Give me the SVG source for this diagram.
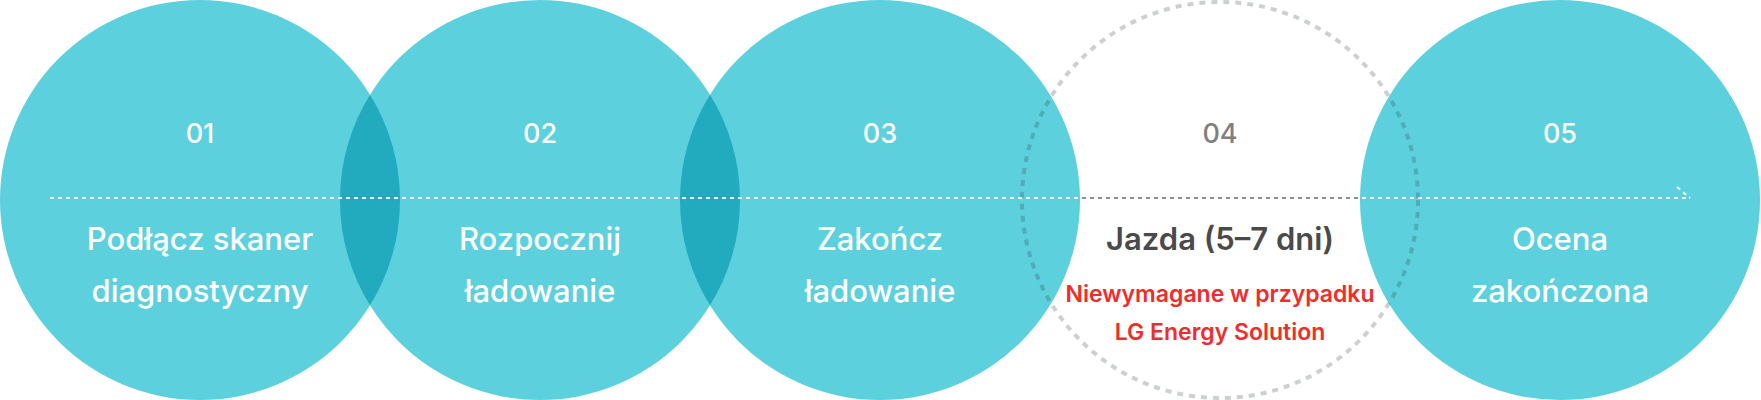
<svg xmlns="http://www.w3.org/2000/svg" width="1761" height="400" viewBox="0 0 1761 400">
  <style>
    .disc { fill: #5CD1DD; }
    .lens { fill: #22AABE; }
    .ring { fill: none; stroke: #28393D; stroke-opacity: 0.24; stroke-width: 4; stroke-dasharray: 6 6; }
    .num { font-family: Inter, "Noto Sans", "Liberation Sans", sans-serif; font-size: 27px; font-weight: 500; text-anchor: middle; fill: #FFFFFF; }
    .lbl { font-family: Inter, "Noto Sans", "Liberation Sans", sans-serif; font-size: 31px; font-weight: 500; text-anchor: middle; fill: #FFFFFF; }
    .note { font-family: Inter, "Noto Sans", "Liberation Sans", sans-serif; font-size: 23px; font-weight: 600; text-anchor: middle; fill: #EE2D2D; }
    .flow { fill: none; stroke-width: 2; stroke-dasharray: 4 4; }
  </style>

  <g id="step-01">
    <circle class="disc" cx="200" cy="200" r="200"/>
    <text class="num" x="200" y="143">01</text>
    <text class="lbl" x="200" y="250">Podłącz skaner</text>
    <text class="lbl" x="200" y="302">diagnostyczny</text>
  </g>
  <g id="step-02">
    <circle class="disc" cx="540" cy="200" r="200"/>
  </g>
  <g id="step-03">
    <circle class="disc" cx="880" cy="200" r="200"/>
  </g>
  <g id="step-05">
    <circle class="disc" cx="1560" cy="200" r="200"/>
  </g>

  <g id="overlaps">
    <path class="lens" d="M370,94.64 A200,200 0 0 1 370,305.36 A200,200 0 0 1 370,94.64 Z"/>
    <path class="lens" d="M710,94.64 A200,200 0 0 1 710,305.36 A200,200 0 0 1 710,94.64 Z"/>
  </g>

  <g id="step-02-text">
    <text class="num" x="540" y="143">02</text>
    <text class="lbl" x="540" y="250">Rozpocznij</text>
    <text class="lbl" x="540" y="302">ładowanie</text>
  </g>
  <g id="step-03-text">
    <text class="num" x="880" y="143">03</text>
    <text class="lbl" x="880" y="250">Zakończ</text>
    <text class="lbl" x="880" y="302">ładowanie</text>
  </g>
  <g id="step-05-text">
    <text class="num" x="1560" y="143">05</text>
    <text class="lbl" x="1560" y="250">Ocena</text>
    <text class="lbl" x="1560" y="302">zakończona</text>
  </g>

  <g id="connectors">
    <line class="flow" x1="50" y1="198" x2="1690" y2="198" stroke="#FFFFFF"/>
    <line class="flow" x1="1082" y1="198" x2="1358" y2="198" stroke="#8A9092"/>
    <line class="flow" x1="1677" y1="187" x2="1690" y2="198" stroke="#FFFFFF"/>
  </g>

  <g id="step-04">
    <circle class="ring" cx="1220" cy="200" r="198"/>
    <text class="num" x="1220" y="143" style="fill:#808080">04</text>
    <text class="lbl" x="1220" y="250" style="fill:#4A4A4A;font-weight:600">Jazda (5–7 dni)</text>
    <text class="note" x="1220" y="302">Niewymagane w przypadku</text>
    <text class="note" x="1220" y="340">LG Energy Solution</text>
  </g>
</svg>
